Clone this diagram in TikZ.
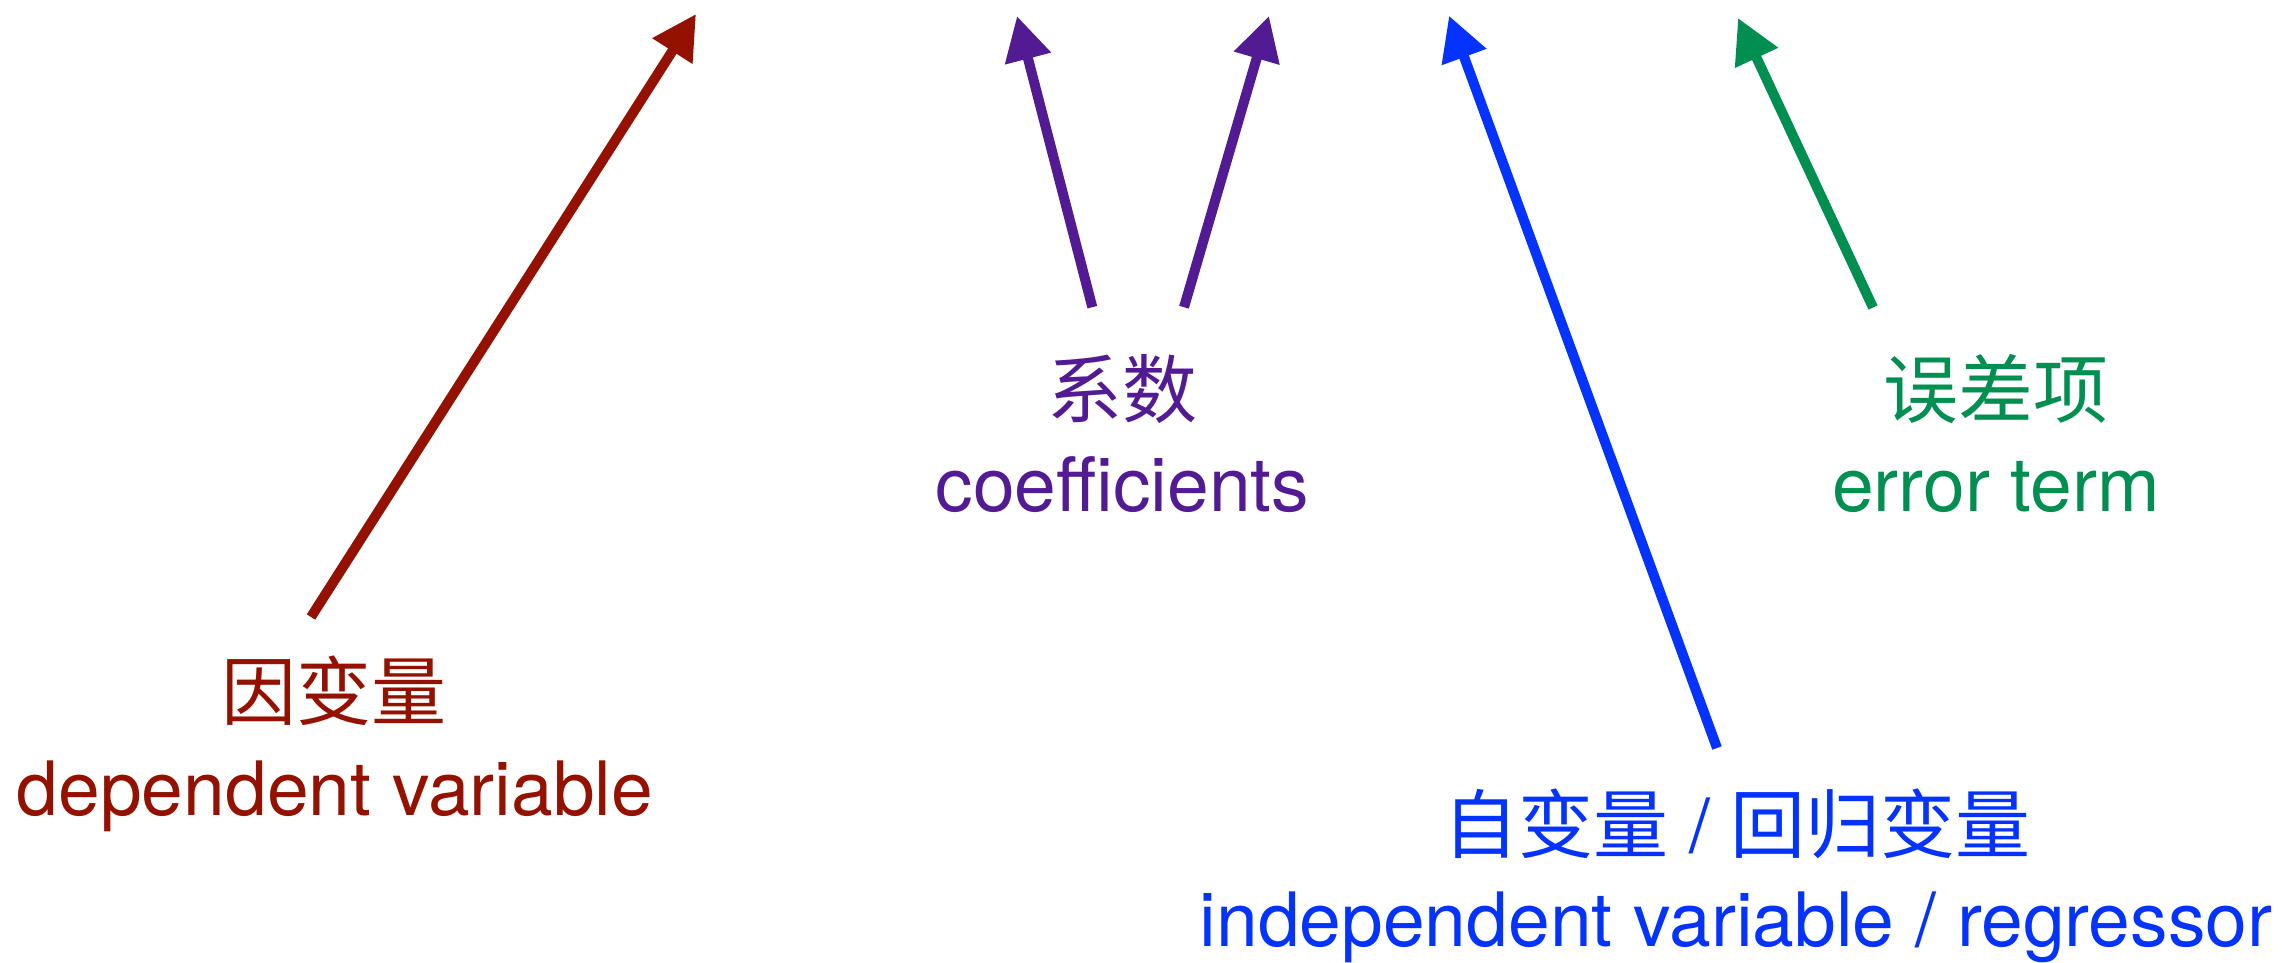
\documentclass[tikz,border=0pt]{standalone}
\usepackage{fontspec}
\setmainfont{TeX Gyre Heros}
\newfontfamily\cjk{Noto Sans CJK SC}
\usetikzlibrary{arrows.meta}
\definecolor{cred}{HTML}{941100}
\definecolor{cpurple}{HTML}{531B93}
\definecolor{cblue}{HTML}{0433FF}
\definecolor{cgreen}{HTML}{008F51}
\tikzset{
  ptr/.style={line width=10pt, -{Triangle[length=44pt,width=45pt]}},
  lbl/.style={inner sep=0pt, anchor=base, font=\fontsize{75}{90}\selectfont},
  zh/.style={inner sep=0pt, anchor=base, font=\fontsize{75}{90}\selectfont\cjk},
}
\begin{document}
\begin{tikzpicture}[x=1pt,y=-1pt]
\useasboundingbox (0,0) rectangle (2296,962);
% arrow ends
\coordinate (rs) at (311,617);
\coordinate (rt) at (696,14);
\coordinate (pls) at (1092.3,307.2);
\coordinate (plt) at (1017,16);
\coordinate (prs) at (1184,307.2);
\coordinate (prt) at (1269,16);
\coordinate (bs) at (1717,748);
\coordinate (bt) at (1449,15.7);
\coordinate (gs) at (1873,307.5);
\coordinate (gt) at (1738,18);
% labels
\node[zh, text=cred] (depzh) at (334,719) {因变量};
\node[lbl, text=cred] (depen) at (335,815.6) {dependent variable};
\node[zh, text=cpurple] (coefzh) at (1122,417) {系数};
\node[lbl, text=cpurple] (coefen) at (1122.5,511) {coefficients};
\node[zh, text=cgreen] (errzh) at (1996,417) {误差项};
\node[lbl, text=cgreen] (erren) at (1996,511) {error term};
\node[lbl, text=cblue] (indzh) at (1737,852) {{\cjk 自变量} / {\cjk 回归变量}};
\node[lbl, text=cblue] (inden) at (1736,946) {independent variable / regressor};
% arrows
\draw[ptr, cred] (rs) -- (rt);
\draw[ptr, cpurple] (pls) -- (plt);
\draw[ptr, cpurple] (prs) -- (prt);
\draw[ptr, cblue] (bs) -- (bt);
\draw[ptr, cgreen] (gs) -- (gt);
\end{tikzpicture}
\end{document}
